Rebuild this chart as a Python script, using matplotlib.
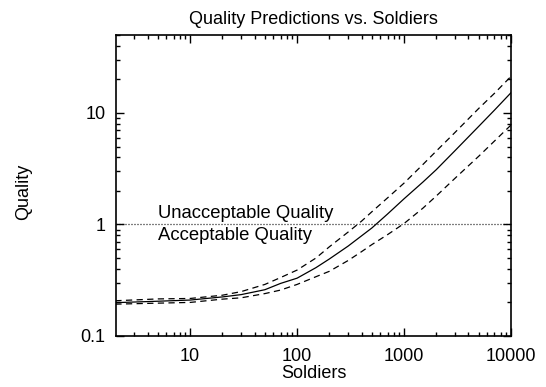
import matplotlib
matplotlib.use("Agg")
import matplotlib.pyplot as plt
from matplotlib.ticker import LogLocator, NullFormatter, FixedLocator, FixedFormatter

plt.rcParams['font.family'] = ['Liberation Sans', 'DejaVu Sans']

# soldiers (x) and quality predictions
soldiers = [2, 5, 10, 20, 30, 50, 70, 100, 150, 200, 300, 400, 500, 700, 1000,
            1500, 2000, 3000, 5000, 7000, 10000]
quality_mid = [0.199, 0.205, 0.21, 0.224, 0.235, 0.26, 0.296, 0.33, 0.41, 0.49,
               0.64, 0.79, 0.93, 1.24, 1.7, 2.4, 3.1, 4.6, 7.6, 10.6, 15.2]
quality_hi = [0.207, 0.215, 0.217, 0.232, 0.25, 0.29, 0.334, 0.39, 0.5, 0.63,
              0.855, 1.07, 1.3, 1.73, 2.35, 3.45, 4.55, 6.7, 11.0, 15.0, 21.3]
quality_lo = [0.193, 0.197, 0.2, 0.214, 0.22, 0.24, 0.258, 0.29, 0.34, 0.38,
              0.475, 0.57, 0.66, 0.81, 1.02, 1.4, 1.8, 2.6, 4.1, 5.6, 7.8]
threshold = 1.0

fig = plt.figure(figsize=(5.46, 3.87), dpi=100)
ax = fig.add_axes([0.2125, 0.1318, 0.7235, 0.7778])

ax.plot(soldiers, quality_mid, color='black', lw=0.9)
ax.plot(soldiers, quality_hi, color='black', lw=0.9, dashes=(5, 3.5))
ax.plot(soldiers, quality_lo, color='black', lw=0.9, dashes=(5, 3.5))
ax.axhline(threshold, color='black', lw=0.9, dashes=(0.8, 1.6))

ax.text(5, 1.06, 'Unacceptable Quality', fontsize=13.3, va='bottom', ha='left')
ax.text(5, 0.94, 'Acceptable Quality', fontsize=13.3, va='top', ha='left')

ax.set_xscale('log')
ax.set_yscale('log')
ax.set_xlim(2.03, 10000)
ax.set_ylim(0.1, 50)

ax.xaxis.set_major_locator(FixedLocator([10, 100, 1000, 10000]))
ax.xaxis.set_major_formatter(FixedFormatter(['10', '100', '1000', '10000']))
ax.yaxis.set_major_locator(FixedLocator([0.1, 1, 10]))
ax.yaxis.set_major_formatter(FixedFormatter(['0.1', '1', '10']))
ax.xaxis.set_minor_locator(LogLocator(base=10, subs=range(2, 10), numticks=20))
ax.yaxis.set_minor_locator(LogLocator(base=10, subs=range(2, 10), numticks=20))
ax.xaxis.set_minor_formatter(NullFormatter())
ax.yaxis.set_minor_formatter(NullFormatter())

ax.tick_params(which='both', direction='in', top=True, right=True, labelsize=13, width=1)
ax.tick_params(which='major', length=5.5)
ax.tick_params(which='minor', length=3)
ax.tick_params(axis='x', which='major', pad=9)
ax.tick_params(axis='y', which='major', pad=7.5)
for s in ax.spines.values():
    s.set_linewidth(1.2)

ax.set_title('Quality Predictions vs. Soldiers', fontsize=13, pad=8)
ax.set_xlabel('Soldiers', fontsize=13, labelpad=0)
ax.set_ylabel('Quality', fontsize=13, va='center', ha='center')
ax.yaxis.set_label_coords(-0.235, 0.48)

fig.savefig('out.png', dpi=100)
